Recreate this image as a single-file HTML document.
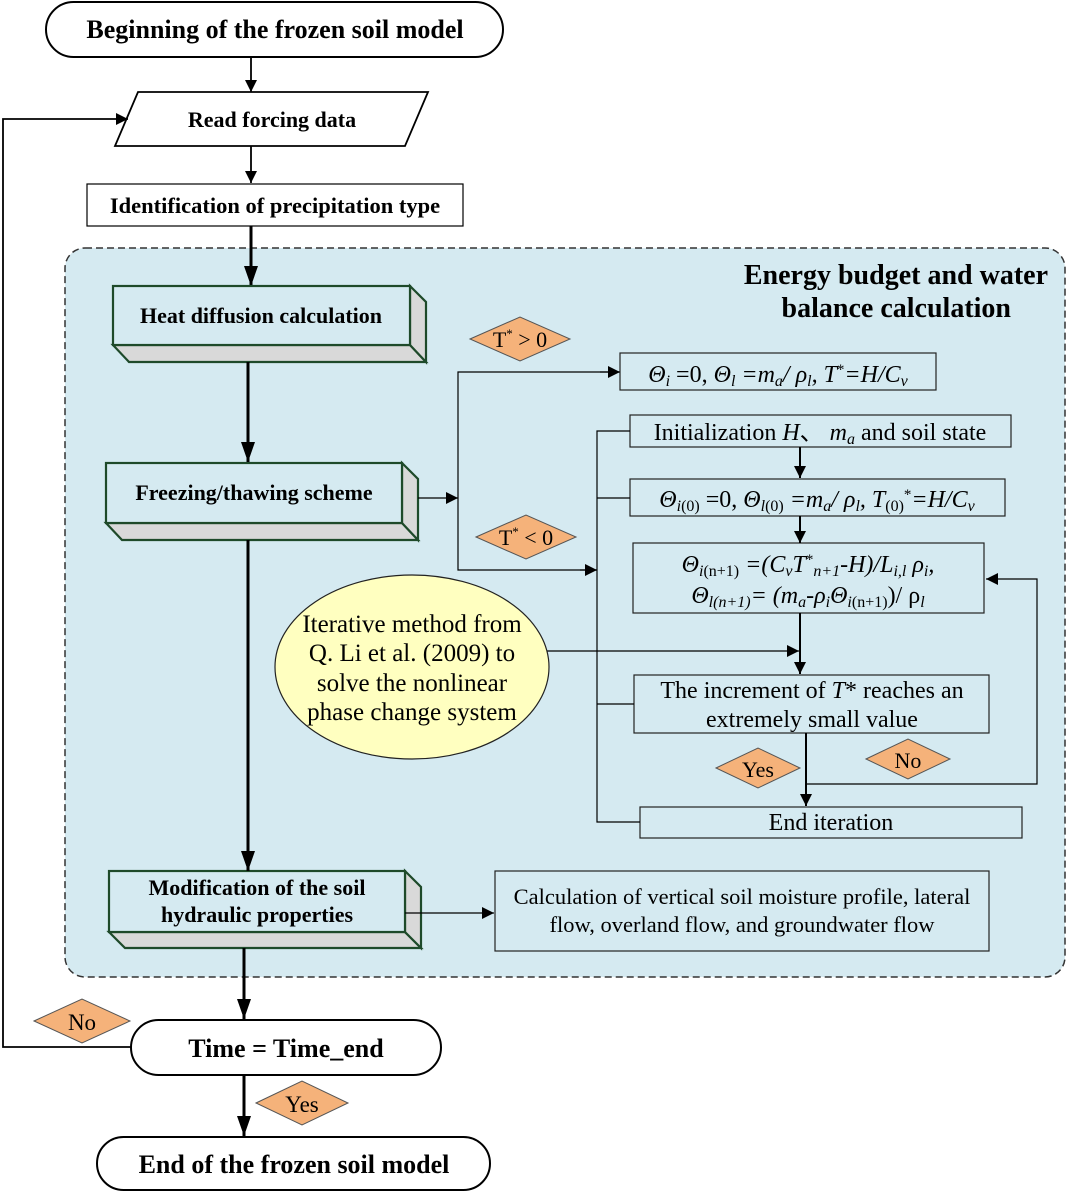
<!DOCTYPE html>
<html><head><meta charset="utf-8"><style>
html,body{margin:0;padding:0;background:#fff;}
svg{display:block;font-family:"Liberation Serif",serif;}
.b{font-weight:bold;}
</style></head><body>
<svg width="1067" height="1193" viewBox="0 0 1067 1193" xmlns="http://www.w3.org/2000/svg">
<defs>
<marker id="a" viewBox="0 0 10 10" refX="10" refY="5" markerWidth="12" markerHeight="12" markerUnits="userSpaceOnUse" orient="auto"><path d="M0,0L10,5L0,10z" fill="#000"/></marker>
<marker id="A" viewBox="0 0 10 10" refX="10" refY="5" markerWidth="20" markerHeight="20" markerUnits="userSpaceOnUse" orient="auto"><path d="M0,1.5L10,5L0,8.5z" fill="#000"/></marker>
</defs>
<g stroke="#000" fill="none">
<rect x="65" y="248" width="1000" height="729" rx="20" fill="#d5eaf1" stroke="#333" stroke-width="1.5" stroke-dasharray="7,4"/>
<rect x="46" y="2" width="457" height="55" rx="27.5" fill="#fff" stroke-width="2"/>
<line x1="251" y1="57" x2="251" y2="92" stroke-width="1.8" marker-end="url(#a)"/>
<polygon points="138,92 428,92 405,146 115,146" fill="#fff" stroke-width="1.8"/>
<line x1="251" y1="146" x2="251" y2="183" stroke-width="1.8" marker-end="url(#a)"/>
<rect x="87" y="184" width="376" height="42" fill="#fff" stroke-width="1.2"/>
<line x1="251" y1="226" x2="251" y2="286" stroke-width="3" marker-end="url(#A)"/>
<g stroke="#1e4a2a" stroke-width="2.2">
<polygon points="113,345 410,345 426,362 129,362" fill="#d9d9d9"/>
<polygon points="410,286 426,302 426,362 410,345" fill="#d9d9d9"/>
<rect x="113" y="286" width="297" height="59" fill="#d5eaf1"/>
<polygon points="106,523 402,523 418,540 122,540" fill="#d9d9d9"/>
<polygon points="402,463 418,479 418,540 402,523" fill="#d9d9d9"/>
<rect x="106" y="463" width="296" height="60" fill="#d5eaf1"/>
<polygon points="109,932 405,932 421,948 125,948" fill="#d9d9d9"/>
<polygon points="405,871 421,887 421,948 405,932" fill="#d9d9d9"/>
<rect x="109" y="871" width="296" height="61" fill="#d5eaf1"/>
</g>
<line x1="248" y1="362" x2="248" y2="462" stroke-width="3" marker-end="url(#A)"/>
<line x1="248" y1="540" x2="248" y2="871" stroke-width="3" marker-end="url(#A)"/>
<line x1="418" y1="498" x2="458" y2="498" stroke-width="1.2" marker-end="url(#a)"/>
<polyline points="620,372 458,372 458,570 597,570" stroke-width="1.2"/>
<line x1="600" y1="372" x2="620" y2="372" stroke-width="1.2" marker-end="url(#a)"/>
<line x1="580" y1="570" x2="597" y2="570" stroke-width="1.2" marker-end="url(#a)"/>
<g fill="#d5eaf1" stroke="#222" stroke-width="1.2">
<rect x="620" y="353" width="316" height="37"/>
<rect x="630" y="415" width="381" height="32"/>
<rect x="630" y="479" width="375" height="37"/>
<rect x="633" y="543" width="351" height="70"/>
<rect x="634" y="675" width="355" height="58"/>
<rect x="640" y="807" width="382" height="31"/>
<rect x="495" y="871" width="494" height="80"/>
</g>
<polyline points="630,431 597,431 597,822 640,822" stroke-width="1.2"/>
<line x1="597" y1="498" x2="630" y2="498" stroke-width="1.2"/>
<line x1="597" y1="704" x2="634" y2="704" stroke-width="1.2"/>
<line x1="800" y1="447" x2="800" y2="478" stroke-width="2" marker-end="url(#a)"/>
<line x1="800" y1="516" x2="800" y2="543" stroke-width="2" marker-end="url(#a)"/>
<line x1="800" y1="613" x2="800" y2="674" stroke-width="2" marker-end="url(#a)"/>
<line x1="545" y1="651" x2="799" y2="651" stroke-width="1.2" marker-end="url(#a)"/>
<line x1="806" y1="733" x2="806" y2="806" stroke-width="2" marker-end="url(#a)"/>
<polyline points="806,784 1037,784 1037,579 986,579" stroke-width="1.2" marker-end="url(#a)"/>
<line x1="405" y1="913" x2="494" y2="913" stroke-width="1.2" marker-end="url(#a)"/>
<ellipse cx="412" cy="667" rx="137" ry="92" fill="#ffffc0" stroke="#222" stroke-width="1.2"/>
<line x1="244" y1="948" x2="244" y2="1019" stroke-width="3" marker-end="url(#A)"/>
<rect x="131" y="1020" width="310" height="55" rx="27.5" fill="#fff" stroke-width="2"/>
<polyline points="131,1047 3,1047 3,119 128,119" stroke-width="1.8" marker-end="url(#a)"/>
<line x1="244" y1="1075" x2="244" y2="1136" stroke-width="3" marker-end="url(#A)"/>
<rect x="97" y="1137" width="393" height="53" rx="26.5" fill="#fff" stroke-width="2"/>
<g fill="#f5b27a" stroke="#555" stroke-width="1">
<polygon points="470,339 520,317 570,339 520,361"/>
<polygon points="476,537 526,515 576,537 526,559"/>
<polygon points="716,768 758,748 800,768 758,788"/>
<polygon points="866,759 908,739 950,759 908,779"/>
<polygon points="34,1021 82,999 130,1021 82,1043"/>
<polygon points="256,1103 302,1081 348,1103 302,1125"/>
</g>
</g>
<g fill="#000">
<text x="275" y="38" font-size="26" class="b" text-anchor="middle">Beginning of the frozen soil model</text>
<text x="272" y="127" font-size="22" class="b" text-anchor="middle">Read forcing data</text>
<text x="275" y="213" font-size="22.5" class="b" text-anchor="middle">Identification of precipitation type</text>
<text x="1048" y="284" font-size="28" class="b" text-anchor="end">Energy budget and water</text>
<text x="1011" y="317" font-size="28" class="b" text-anchor="end">balance calculation</text>
<text x="261" y="323" font-size="22" class="b" text-anchor="middle">Heat diffusion calculation</text>
<text x="254" y="500" font-size="22" class="b" text-anchor="middle">Freezing/thawing scheme</text>
<text x="257" y="895" font-size="22" class="b" text-anchor="middle">Modification of the soil</text>
<text x="257" y="922" font-size="22" class="b" text-anchor="middle">hydraulic properties</text>
<text x="778" y="382" font-size="24" text-anchor="middle"><tspan font-style="italic">Θ<tspan font-size="16" dy="4">i</tspan></tspan><tspan dy="-4"> =0, </tspan><tspan font-style="italic">Θ<tspan font-size="16" dy="4">l</tspan><tspan dy="-4"> =m</tspan><tspan font-size="16" dy="4">a</tspan><tspan dy="-4">/ ρ</tspan><tspan font-size="16" dy="4">l</tspan><tspan dy="-4">, T</tspan></tspan><tspan font-size="15" dy="-8">*</tspan><tspan dy="8" font-style="italic">=H/C</tspan><tspan font-style="italic" font-size="16" dy="4">v</tspan></text>
<text x="820" y="440" font-size="24" text-anchor="middle">Initialization <tspan font-style="italic">H</tspan>、 <tspan font-style="italic">m</tspan><tspan font-style="italic" font-size="16" dy="4">a</tspan><tspan dy="-4"> and soil state</tspan></text>
<text x="817" y="507" font-size="24" text-anchor="middle" font-style="italic">Θ<tspan font-size="16" dy="4">i</tspan><tspan font-size="16" font-style="normal">(0)</tspan><tspan dy="-4" font-style="normal"> =0, </tspan>Θ<tspan font-size="16" dy="4">l</tspan><tspan font-size="16" font-style="normal">(0)</tspan><tspan dy="-4"> =m</tspan><tspan font-size="16" dy="4">a</tspan><tspan dy="-4">/ ρ</tspan><tspan font-size="16" dy="4">l</tspan><tspan dy="-4">, T</tspan><tspan font-size="16" dy="4" font-style="normal">(0)</tspan><tspan font-size="15" dy="-12" font-style="normal">*</tspan><tspan dy="8">=H/C</tspan><tspan font-size="16" dy="4">v</tspan></text>
<text x="808" y="572" font-size="24" text-anchor="middle" font-style="italic">Θ<tspan font-size="16" dy="4">i</tspan><tspan font-size="16" font-style="normal">(n+1)</tspan><tspan dy="-4"> =(C</tspan><tspan font-size="16" dy="4">v</tspan><tspan dy="-4">T</tspan><tspan font-size="15" dy="-8" font-style="normal">*</tspan><tspan font-size="16" dy="12">n+1</tspan><tspan dy="-4">-H)/L</tspan><tspan font-size="16" dy="4">i,l</tspan><tspan dy="-4"> ρ</tspan><tspan font-size="16" dy="4">i</tspan><tspan dy="-4">,</tspan></text>
<text x="808" y="603" font-size="24" text-anchor="middle" font-style="italic">Θ<tspan font-size="16" dy="4">l(n+1)</tspan><tspan dy="-4">= (m</tspan><tspan font-size="16" dy="4">a</tspan><tspan dy="-4">-ρ</tspan><tspan font-size="16" dy="4">i</tspan><tspan dy="-4">Θ</tspan><tspan font-size="16" dy="4">i</tspan><tspan font-size="16" font-style="normal">(n+1)</tspan><tspan dy="-4" font-style="normal">)/ ρ</tspan><tspan font-size="16" dy="4">l</tspan></text>
<text x="812" y="698" font-size="24" text-anchor="middle">The increment of <tspan font-style="italic">T</tspan>* reaches an</text>
<text x="812" y="727" font-size="24" text-anchor="middle">extremely small value</text>
<text x="831" y="830" font-size="24" text-anchor="middle">End iteration</text>
<text x="742" y="904" font-size="22.5" text-anchor="middle">Calculation of vertical soil moisture profile, lateral</text>
<text x="742" y="932" font-size="22.5" text-anchor="middle">flow, overland flow, and groundwater flow</text>
<text x="412" y="632" font-size="25" text-anchor="middle">Iterative  method from</text>
<text x="412" y="661" font-size="25" text-anchor="middle">Q. Li et al. (2009) to</text>
<text x="412" y="691" font-size="25" text-anchor="middle">solve the nonlinear</text>
<text x="412" y="720" font-size="25" text-anchor="middle">phase change system</text>
<text x="520" y="347" font-size="22" text-anchor="middle">T<tspan font-size="13" dy="-9">*</tspan><tspan dy="9"> &gt; 0</tspan></text>
<text x="526" y="545" font-size="22" text-anchor="middle">T<tspan font-size="13" dy="-9">*</tspan><tspan dy="9"> &lt; 0</tspan></text>
<text x="758" y="777" font-size="22" text-anchor="middle">Yes</text>
<text x="908" y="768" font-size="22" text-anchor="middle">No</text>
<text x="82" y="1030" font-size="23" text-anchor="middle">No</text>
<text x="302" y="1112" font-size="23" text-anchor="middle">Yes</text>
<text x="286" y="1057" font-size="26" class="b" text-anchor="middle">Time = Time_end</text>
<text x="294" y="1173" font-size="26" class="b" text-anchor="middle">End of the frozen soil model</text>
</g>
</svg>
</body></html>
